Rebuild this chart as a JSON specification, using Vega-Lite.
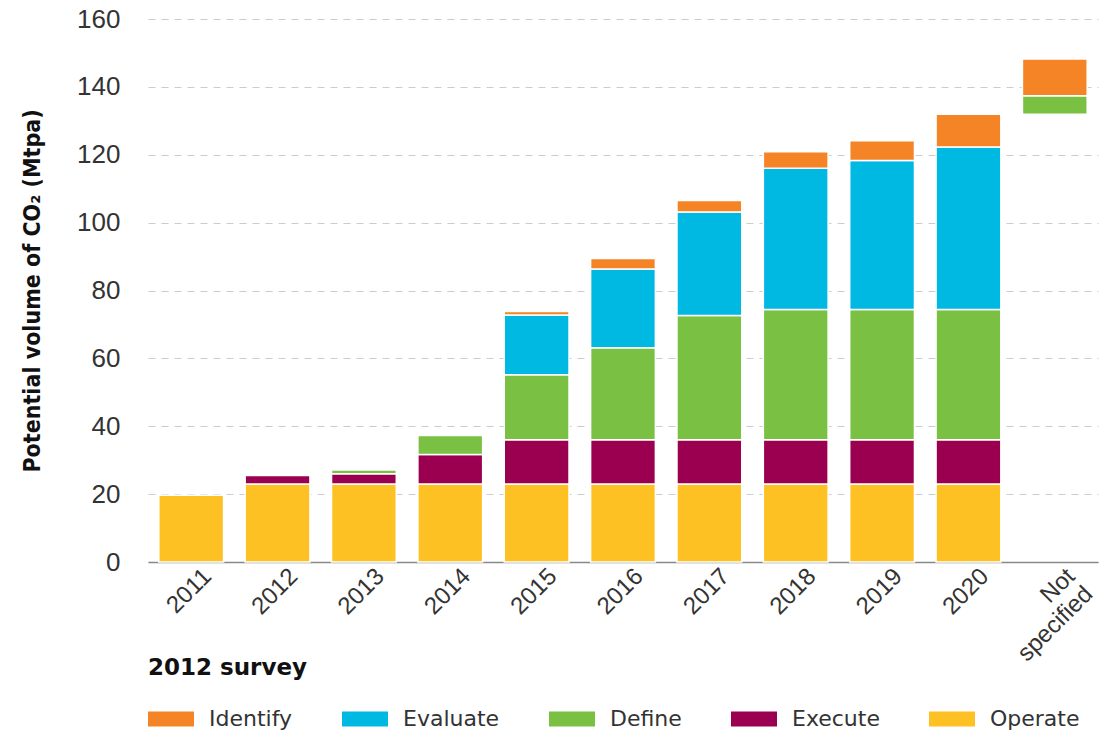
{
  "$schema": "https://vega.github.io/schema/vega-lite/v6.json",
  "width": 950,
  "height": 543,
  "autosize": {"type": "none"},
  "padding": {"left": 148, "top": 19, "right": 3, "bottom": 168},
  "background": "white",
  "config": {
    "view": {"stroke": null},
    "font": "Liberation Sans"
  },
  "data": {
    "values": [
      {"year": "2011", "stage": "Operate", "lo": 0, "hi": 19.7},
      {"year": "2012", "stage": "Operate", "lo": 0, "hi": 23},
      {"year": "2012", "stage": "Execute", "lo": 23, "hi": 25.5},
      {"year": "2013", "stage": "Operate", "lo": 0, "hi": 23},
      {"year": "2013", "stage": "Execute", "lo": 23, "hi": 26},
      {"year": "2013", "stage": "Define", "lo": 26, "hi": 27.1},
      {"year": "2014", "stage": "Operate", "lo": 0, "hi": 23},
      {"year": "2014", "stage": "Execute", "lo": 23, "hi": 31.7},
      {"year": "2014", "stage": "Define", "lo": 31.7, "hi": 37.3},
      {"year": "2015", "stage": "Operate", "lo": 0, "hi": 23},
      {"year": "2015", "stage": "Execute", "lo": 23, "hi": 36},
      {"year": "2015", "stage": "Define", "lo": 36, "hi": 55.2},
      {"year": "2015", "stage": "Evaluate", "lo": 55.2, "hi": 72.8},
      {"year": "2015", "stage": "Identify", "lo": 72.8, "hi": 73.8},
      {"year": "2016", "stage": "Operate", "lo": 0, "hi": 23},
      {"year": "2016", "stage": "Execute", "lo": 23, "hi": 36},
      {"year": "2016", "stage": "Define", "lo": 36, "hi": 63.1},
      {"year": "2016", "stage": "Evaluate", "lo": 63.1, "hi": 86.3},
      {"year": "2016", "stage": "Identify", "lo": 86.3, "hi": 89.4},
      {"year": "2017", "stage": "Operate", "lo": 0, "hi": 23},
      {"year": "2017", "stage": "Execute", "lo": 23, "hi": 36},
      {"year": "2017", "stage": "Define", "lo": 36, "hi": 72.6},
      {"year": "2017", "stage": "Evaluate", "lo": 72.6, "hi": 103.1},
      {"year": "2017", "stage": "Identify", "lo": 103.1, "hi": 106.5},
      {"year": "2018", "stage": "Operate", "lo": 0, "hi": 23},
      {"year": "2018", "stage": "Execute", "lo": 23, "hi": 36},
      {"year": "2018", "stage": "Define", "lo": 36, "hi": 74.4},
      {"year": "2018", "stage": "Evaluate", "lo": 74.4, "hi": 116},
      {"year": "2018", "stage": "Identify", "lo": 116, "hi": 120.9},
      {"year": "2019", "stage": "Operate", "lo": 0, "hi": 23},
      {"year": "2019", "stage": "Execute", "lo": 23, "hi": 36},
      {"year": "2019", "stage": "Define", "lo": 36, "hi": 74.4},
      {"year": "2019", "stage": "Evaluate", "lo": 74.4, "hi": 118.3},
      {"year": "2019", "stage": "Identify", "lo": 118.3, "hi": 124.1},
      {"year": "2020", "stage": "Operate", "lo": 0, "hi": 23},
      {"year": "2020", "stage": "Execute", "lo": 23, "hi": 36},
      {"year": "2020", "stage": "Define", "lo": 36, "hi": 74.4},
      {"year": "2020", "stage": "Evaluate", "lo": 74.4, "hi": 122.3},
      {"year": "2020", "stage": "Identify", "lo": 122.3, "hi": 131.9},
      {"year": "Not specified", "stage": "Define", "lo": 131.9, "hi": 137.4},
      {"year": "Not specified", "stage": "Identify", "lo": 137.4, "hi": 148.2}
    ]
  },
  "mark": {"type": "bar", "stroke": "white", "strokeWidth": 1.5},
  "encoding": {
    "x": {
      "field": "year",
      "type": "nominal",
      "sort": null,
      "scale": {"paddingInner": 0.25, "paddingOuter": 0.125},
      "axis": {
        "title": null,
        "labelAngle": -45,
        "labelFontSize": 24,
        "labelColor": "#333333",
        "labelPadding": 2,
        "labelOffset": 8,
        "ticks": false,
        "domainColor": "#888888",
        "domainWidth": 1.5,
        "labelExpr": "datum.value == 'Not specified' ? ['Not', 'specified'] : datum.value",
        "labelLineHeight": 25
      }
    },
    "y": {
      "field": "lo",
      "type": "quantitative",
      "scale": {"domain": [0, 160], "nice": false},
      "axis": {
        "title": "Potential volume of CO₂ (Mtpa)",
        "titleFont": "DejaVu Sans Condensed, DejaVu Sans",
        "titleFontSize": 23,
        "titleFontWeight": "bold",
        "titleColor": "#111111",
        "titlePadding": 32,
        "values": [0, 20, 40, 60, 80, 100, 120, 140, 160],
        "labelFontSize": 26,
        "labelColor": "#333333",
        "labelPadding": 28,
        "ticks": false,
        "domain": false,
        "grid": true,
        "gridDash": [7, 6],
        "gridColor": "#cccccc",
        "gridWidth": 1.2
      }
    },
    "y2": {"field": "hi"},
    "color": {
      "field": "stage",
      "type": "nominal",
      "scale": {
        "domain": ["Identify", "Evaluate", "Define", "Execute", "Operate"],
        "range": ["#F58426", "#00B9E3", "#7AC143", "#9B0050", "#FDC123"]
      },
      "legend": {
        "title": "2012 survey",
        "orient": "none",
        "legendX": 0,
        "legendY": 638,
        "direction": "horizontal",
        "titleFont": "DejaVu Sans",
        "titleFontSize": 23,
        "titleFontWeight": "bold",
        "titleColor": "#111111",
        "titlePadding": 16,
        "labelFont": "DejaVu Sans",
        "labelFontSize": 22,
        "labelColor": "#333333",
        "labelOffset": 15,
        "columnPadding": 49,
        "symbolType": "M-1,-0.33H1V0.33H-1Z",
        "symbolSize": 2116,
        "symbolStrokeWidth": 0,
        "symbolOpacity": 1
      }
    }
  }
}
